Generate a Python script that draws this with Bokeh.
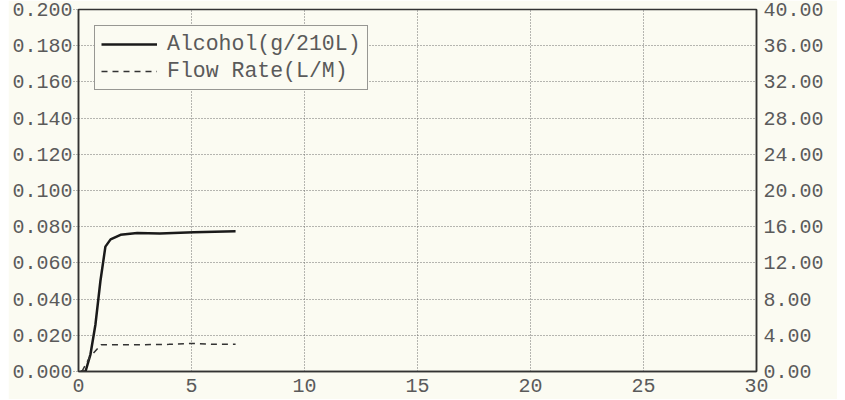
from bokeh.plotting import figure
from bokeh.models import Range1d, LinearAxis, FixedTicker, NumeralTickFormatter
from bokeh.embed import file_html
from bokeh.resources import INLINE

# ---- data ----
alcohol_x = [0.09, 0.31, 0.53, 0.75, 0.97, 1.19, 1.42, 1.86, 2.6, 3.6, 5.1, 6.95]
alcohol_y = [0.000, 0.000, 0.0095, 0.026, 0.050, 0.069, 0.073, 0.0755, 0.0765, 0.0762, 0.0770, 0.0775]
flow_x = [0.15, 0.5, 1.0, 2.5, 4.0, 5.0, 6.0, 6.95]
flow_y = [0.0, 1.6, 2.95, 2.95, 3.0, 3.1, 3.0, 3.0]
x_ticks = [0, 5, 10, 15, 20, 25, 30]
left_ticks = [0.0, 0.02, 0.04, 0.06, 0.08, 0.10, 0.12, 0.14, 0.16, 0.18, 0.20]
right_ticks = [0, 4, 8, 12, 16, 20, 24, 28, 32, 36, 40]

BG = "#fbfbf2"
TXT = "#5a5a5a"
FONT = "Liberation Mono"

p = figure(frame_width=678, frame_height=362, output_backend="svg", toolbar_location=None,
           x_range=Range1d(0, 30), y_range=Range1d(0, 0.2),
           min_border_left=70, min_border_right=81, min_border_top=9, min_border_bottom=28)
p.margin = (0, 0, 0, 8)
p.extra_y_ranges = {"flow": Range1d(0, 40)}
p.background_fill_color = BG
p.border_fill_color = BG
p.outline_line_color = "#333333"
p.outline_line_width = 1.5

# grids
for g in (p.xgrid, p.ygrid):
    g.grid_line_color = "#6f6f6f"
    g.grid_line_dash = "1 2"
    g.grid_line_width = 1
p.xgrid.ticker = FixedTicker(ticks=x_ticks)
p.ygrid.ticker = FixedTicker(ticks=left_ticks)

# bottom axis
xa = p.xaxis[0]
xa.ticker = FixedTicker(ticks=x_ticks)
xa.major_tick_out = 0
xa.major_tick_in = 0
xa.minor_tick_out = 0
xa.minor_tick_in = 0
xa.major_label_standoff = 7
xa.axis_line_color = "#333333"
xa.axis_line_width = 1.5

# left axis
ya = p.yaxis[0]
ya.ticker = FixedTicker(ticks=left_ticks)
ya.formatter = NumeralTickFormatter(format="0.000")
ya.major_tick_out = 5
ya.major_tick_in = 0
ya.major_tick_line_dash = "1 2"
ya.major_tick_line_color = "#6f6f6f"
ya.minor_tick_out = 0
ya.minor_tick_in = 0
ya.major_label_standoff = 1
ya.axis_line_color = "#333333"
ya.axis_line_width = 1.5

# right axis
ra = LinearAxis(y_range_name="flow", ticker=FixedTicker(ticks=right_ticks),
                formatter=NumeralTickFormatter(format="0.00"))
ra.major_tick_out = 0
ra.major_tick_in = 0
ra.minor_tick_out = 0
ra.minor_tick_in = 0
ra.major_label_standoff = 7
ra.axis_line_color = "#333333"
ra.axis_line_width = 1.5
p.add_layout(ra, "right")

for ax in (xa, ya, ra):
    ax.major_label_text_font = FONT
    ax.major_label_text_font_size = "20px"
    ax.major_label_text_color = TXT

# series
p.line(alcohol_x, alcohol_y, line_color="#1a1a1a", line_width=2.5, legend_label="Alcohol(g/210L)")
p.line(flow_x, flow_y, y_range_name="flow", line_color="#333333", line_width=1.5,
       line_dash="6 5", legend_label="Flow Rate(L/M)")

lg = p.legend[0]
lg.location = "top_left"
lg.margin = 16
lg.padding = 6
lg.spacing = 3
lg.label_height = 22
lg.glyph_height = 22
lg.glyph_width = 56
lg.label_standoff = 10
lg.label_text_font = FONT
lg.label_text_font_size = "21.5px"
lg.label_text_color = TXT
lg.background_fill_color = BG
lg.background_fill_alpha = 1
lg.border_line_color = "#333333"
lg.border_line_width = 1.5

open("out.html", "w").write(file_html(p, INLINE))
